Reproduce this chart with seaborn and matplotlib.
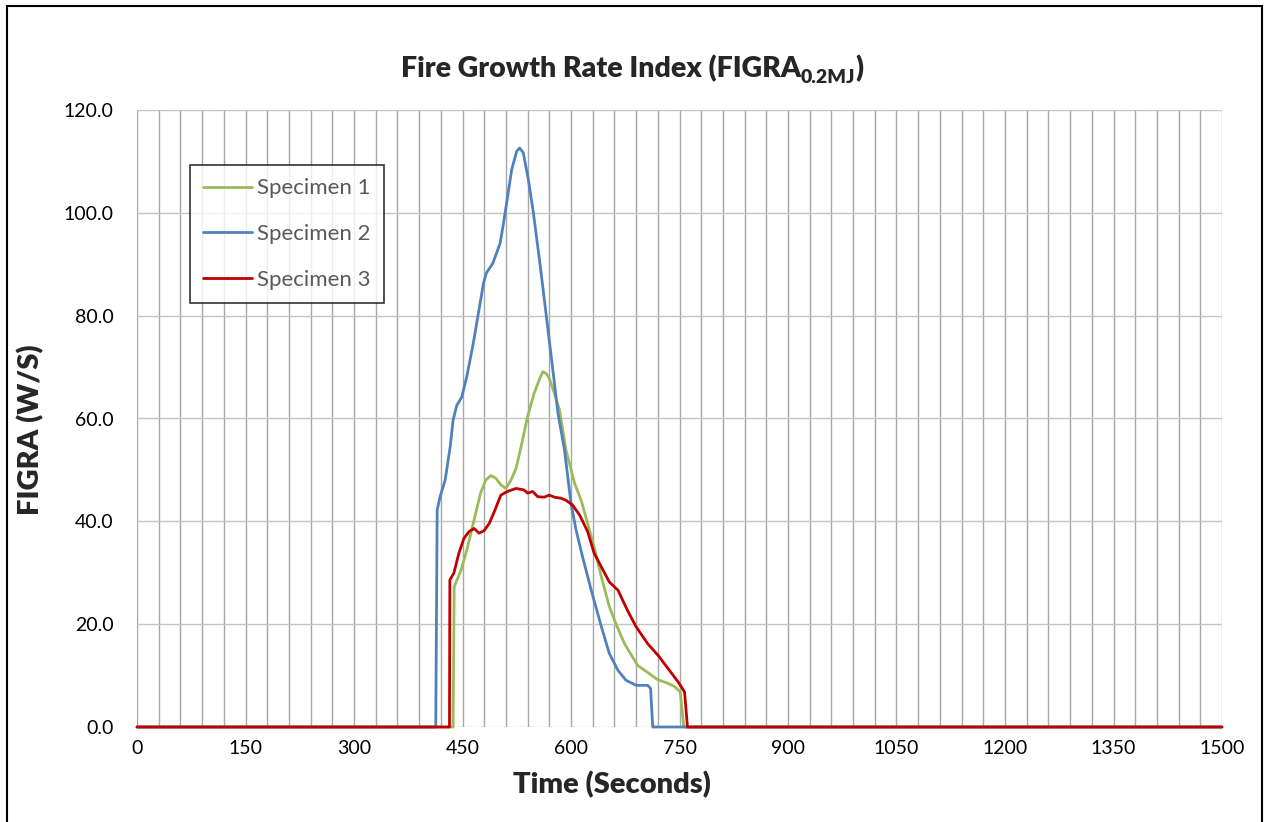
import matplotlib
matplotlib.use("Agg")
import matplotlib.pyplot as plt
from matplotlib.ticker import MultipleLocator, FormatStrFormatter
from matplotlib.patches import Rectangle
import seaborn as sns
import pandas as pd

# ---- data ----
spec1_t = [0, 437, 438.5, 448, 457, 466, 475, 482, 489, 496, 503, 510, 517, 524, 531,
           540, 549, 556, 561, 566, 570, 577, 584, 593, 605, 614, 623, 632, 642, 653,
           662, 674, 692, 711, 720, 732, 743, 751, 756, 1500]
spec1_v = [0, 0, 27.3, 30.5, 35, 40.3, 45.5, 48, 48.9, 48.4, 47.1, 46.4, 48, 50.3, 54.5,
           60.4, 64.9, 67.5, 69.1, 68.7, 67.8, 64.9, 61.7, 53.9, 47.4, 44.1, 39.6, 35, 29.2, 23.4,
           20.1, 16.2, 12, 10.1, 9.2, 8.6, 7.9, 6.8, 0, 0]

spec2_t = [0, 413, 415, 419, 426, 433, 437, 442, 449, 456, 465, 479, 483, 492, 502, 506,
           511, 518, 525, 529, 534, 541, 548, 557, 566, 574, 582, 591, 600, 607, 616, 628,
           642, 653, 665, 676, 690, 706, 710, 713, 1500]
spec2_v = [0, 0, 42.2, 44.8, 48, 54.5, 59.7, 62.5, 64.2, 68.2, 74.7, 86.3, 88.3, 90.2, 94.1, 97.4,
           101.9, 108.4, 112, 112.6, 111.7, 106.5, 100, 90.2, 79.8, 70.5, 61.0, 53.9, 43.5, 38.3, 33.1, 26.6,
           19.5, 14.3, 11, 9.1, 8.1, 8.1, 7.5, 0, 0]

spec3_t = [0, 432, 432.5, 438, 445, 452, 459, 466, 473, 480, 487, 494, 503, 512, 524, 535,
           540, 547, 554, 563, 570, 577, 586, 593, 602, 612, 623, 632, 653, 665, 678, 690,
           706, 720, 734, 748, 757, 761, 1500]
spec3_v = [0, 0, 28.6, 29.9, 33.8, 36.7, 38, 38.6, 37.7, 38.2, 39.6, 41.9, 45.1, 45.8, 46.4, 46.1,
           45.5, 45.8, 44.8, 44.7, 45.1, 44.7, 44.5, 44.1, 43.2, 41.2, 38, 33.8, 28.2, 26.6, 22.7, 19.5,
           16.2, 14, 11.4, 8.8, 6.8, 0, 0]

labels = ["Specimen 1", "Specimen 2", "Specimen 3"]
colors = ["#9BBB59", "#4F81BD", "#C00000"]

title_main = "Fire Growth Rate Index (FIGRA"
title_sub = "0.2MJ"
title_end = ")"
xlabel_text = "Time (Seconds)"
ylabel_text = "FIGRA (W/S)"

# ---- build long table ----
frames = []
for lab, t, v in zip(labels, [spec1_t, spec2_t, spec3_t], [spec1_v, spec2_v, spec3_v]):
    frames.append(pd.DataFrame({"Time": t, "FIGRA": v, "Specimen": lab}))
df = pd.concat(frames, ignore_index=True)

sns.set_theme(style="white")
plt.rcParams["font.family"] = ["Lato", "DejaVu Sans"]

W, H = 1265, 822
fig = plt.figure(figsize=(W / 100, H / 100), dpi=100)
ax = fig.add_axes([137 / W, 95 / H, (1222 - 137) / W, (727 - 110) / H])

sns.lineplot(data=df, x="Time", y="FIGRA", hue="Specimen", palette=dict(zip(labels, colors)),
             estimator=None, sort=False, linewidth=2.0, ax=ax)
for ln in ax.lines:
    ln.set_clip_on(False)
    ln.set_solid_joinstyle("round")

ax.set_xlim(0, 1500)
ax.set_ylim(0, 120)
ax.xaxis.set_major_locator(MultipleLocator(150))
ax.xaxis.set_minor_locator(MultipleLocator(30))
ax.yaxis.set_major_locator(MultipleLocator(20))
ax.yaxis.set_major_formatter(FormatStrFormatter("%.1f"))

ax.grid(False)
ax.grid(True, axis="x", which="both", color="#A6A6A6", linewidth=1.0)
ax.grid(True, axis="y", which="major", color="#C4C4C4", linewidth=1.0)
ax.set_axisbelow(True)
for s in ax.spines.values():
    s.set_visible(False)

ax.tick_params(axis="both", which="both", length=0)
ax.tick_params(axis="x", labelsize=14, pad=9, labelcolor="black")
ax.tick_params(axis="y", labelsize=14, pad=17, labelcolor="black")
ax.set_xlabel("")
ax.set_ylabel("")

fig.text(612 / W, 1 - 785 / H, xlabel_text, ha="center", va="center",
         fontsize=21, fontweight="heavy")
fig.text(31 / W, 1 - 430 / H, ylabel_text, ha="center", va="center",
         fontsize=21, fontweight="heavy", rotation=90)

# title built from pieces so the subscript is bold too
renderer = fig.canvas.get_renderer()
base_y = 1 - 77 / H
t1 = fig.text(0, base_y, title_main, ha="left", va="baseline", fontsize=20.5, fontweight="heavy")
w1 = t1.get_window_extent(renderer).width
t2 = fig.text(0, base_y - 6 / H, title_sub, ha="left", va="baseline", fontsize=14, fontweight="heavy")
w2 = t2.get_window_extent(renderer).width
t3 = fig.text(0, base_y, title_end, ha="left", va="baseline", fontsize=20.5, fontweight="heavy")
w3 = t3.get_window_extent(renderer).width
x_start = 632 - (w1 + w2 + w3) / 2
t1.set_x(x_start / W)
t2.set_x((x_start + w1) / W)
t3.set_x((x_start + w1 + w2) / W)

leg = ax.legend(loc="upper left", bbox_to_anchor=(190 / W, 1 - 165 / H),
                bbox_transform=fig.transFigure, fontsize=16, frameon=True,
                fancybox=False, edgecolor="black", handlelength=2.2,
                labelspacing=1.16, borderpad=0.6, handletextpad=0.22, borderaxespad=0)
leg.get_frame().set_linewidth(1.2)
for txt in leg.get_texts():
    txt.set_color("#595959")
for h in leg.legend_handles:
    h.set_linewidth(2.0)

fig.patches.append(Rectangle((7 / W, -0.02), (1262 - 7) / W, 1.02 - 6 / H,
                             transform=fig.transFigure, fill=False, edgecolor="black",
                             linewidth=1.5, zorder=10))

fig.savefig("out.png", dpi=100)
